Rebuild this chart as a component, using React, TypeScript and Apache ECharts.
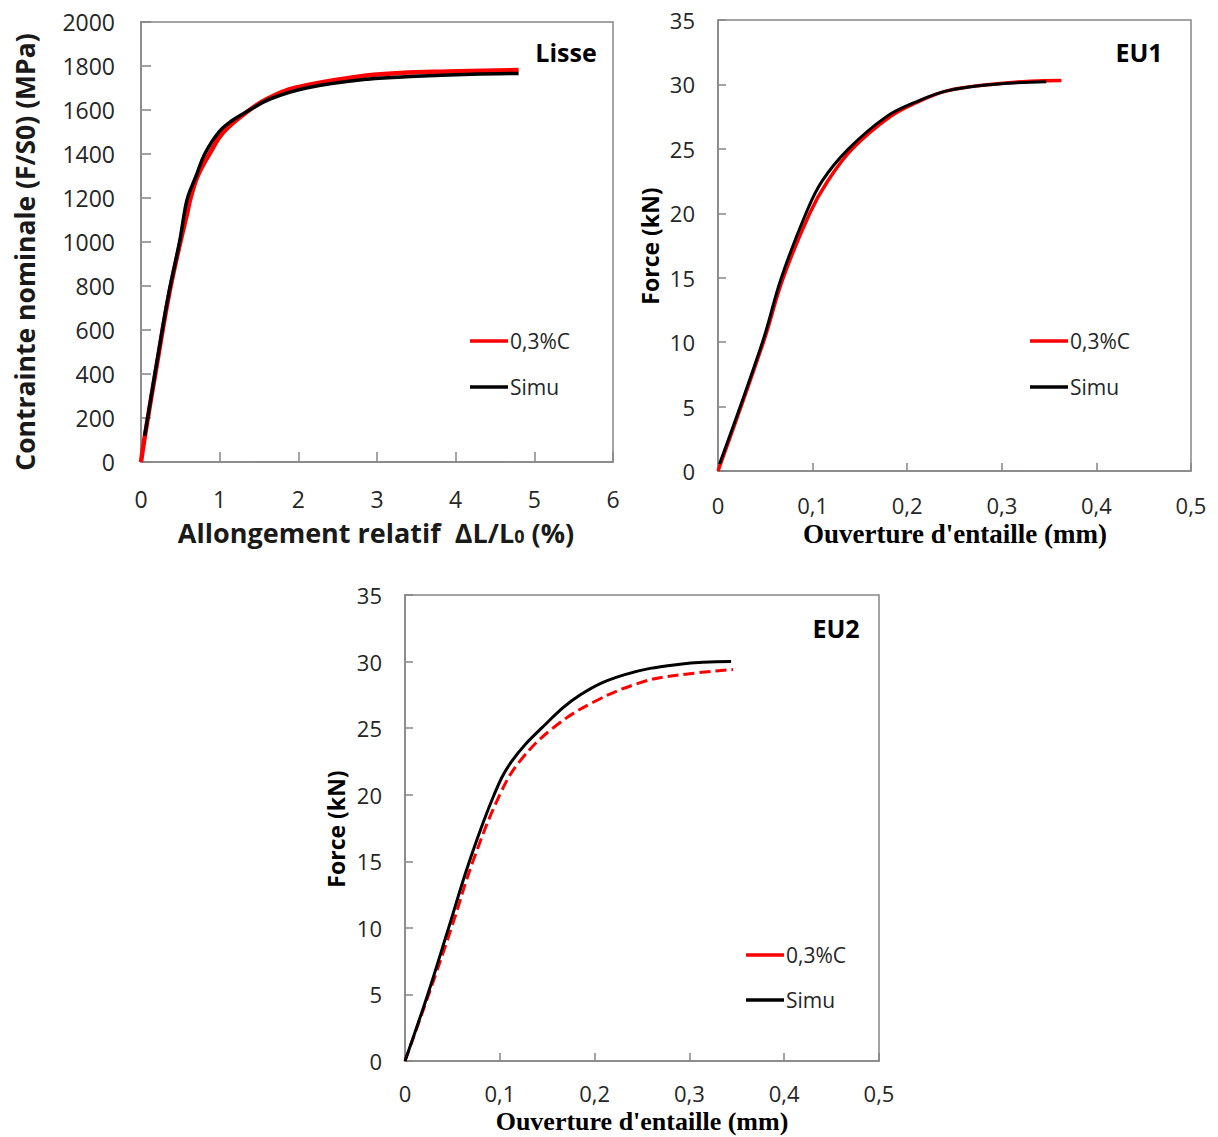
import React, { useEffect, useRef } from "react";
import * as echarts from "echarts";

// ---- Data: Lisse (x: % elongation, y: MPa)
const lisseExpX = [0, 0.05, 0.2, 0.35, 0.5, 0.58, 0.63, 0.72, 0.87, 1.05, 1.38, 1.6, 1.95, 2.73, 3.3, 3.9, 4.8];
const lisseExpY = [0, 120, 440, 750, 1000, 1120, 1200, 1300, 1400, 1500, 1600, 1650, 1700, 1750, 1768, 1775, 1782];
const lisseSimX = [0.047, 0.2, 0.35, 0.49, 0.56, 0.6, 0.7, 0.81, 0.99, 1.15, 1.38, 1.64, 2.1, 2.88, 3.5, 4.2, 4.8];
const lisseSimY = [119, 450, 760, 1000, 1150, 1210, 1300, 1400, 1500, 1550, 1600, 1650, 1700, 1740, 1753, 1762, 1766];

// ---- Data: EU1 (x: mm, y: kN)
const eu1ExpX = [0, 0.048, 0.069, 0.097, 0.116, 0.142, 0.182, 0.21, 0.242, 0.287, 0.33, 0.363];
const eu1ExpY = [0, 10, 15, 20, 22.5, 25, 27.5, 28.6, 29.5, 30, 30.25, 30.3];
const eu1SimX = [0.0016, 0.047, 0.067, 0.093, 0.11, 0.138, 0.178, 0.208, 0.242, 0.29, 0.347];
const eu1SimY = [0.55, 10, 15, 20, 22.5, 25, 27.5, 28.6, 29.5, 30, 30.2];

// ---- Data: EU2 (x: mm, y: kN)
const eu2ExpX = [0, 0.025, 0.049, 0.0717, 0.1, 0.121, 0.156, 0.2, 0.252, 0.29, 0.346];
const eu2ExpY = [0, 5, 10, 15, 20, 22.5, 25, 27, 28.5, 29, 29.4];
const eu2SimX = [0, 0.024, 0.046, 0.068, 0.094, 0.1125, 0.144, 0.185, 0.231, 0.29, 0.344];
const eu2SimY = [0, 5, 10, 15, 20, 22.5, 25, 27.5, 29, 29.8, 30];

const legendNames = ["0,3%C", "Simu"];
const panelLabels = ["Lisse", "EU1", "EU2"];

const zip = (xs: number[], ys: number[]) => xs.map((x, i) => [x, ys[i]]);

const AXIS_COLOR = "#868686";
const TEXT_COLOR = "#262626";
const SANS = "'Open Sans', 'Noto Sans', sans-serif";
const SERIF = "'Liberation Serif', 'DejaVu Serif', serif";

const commaFmt = (v: number) => String(Math.round(v * 10) / 10).replace(".", ",");
const plainFmt = (v: number) => String(v);

export default function App() {
  const ref = useRef<HTMLDivElement>(null);

  useEffect(() => {
    if (!ref.current) return;
    const chart = echarts.init(ref.current, null, { renderer: "svg" });

    const grids = [
      { left: 141, top: 22, width: 472, height: 440 },
      { left: 718, top: 20, width: 473, height: 451 },
      { left: 405, top: 595, width: 474, height: 466 },
    ];

    const xAxisBase = (gi: number, max: number, interval: number, fs: number, margin: number, tickLen: number, fmt: any) => ({
      type: "value",
      gridIndex: gi,
      min: 0,
      max,
      interval,
      axisLine: { show: true, lineStyle: { color: AXIS_COLOR, width: 1.5 } },
      axisTick: { show: true, inside: true, length: tickLen, lineStyle: { color: AXIS_COLOR, width: 1.5 } },
      axisLabel: { color: TEXT_COLOR, fontSize: fs, fontFamily: SANS, margin, formatter: fmt, lineHeight: fs },
      splitLine: { show: false },
    });
    const yAxisBase = (gi: number, max: number, interval: number, fs: number, margin: number, tickLen: number) => ({
      type: "value",
      gridIndex: gi,
      min: 0,
      max,
      interval,
      axisLine: { show: true, lineStyle: { color: AXIS_COLOR, width: 1.5 } },
      axisTick: { show: true, inside: true, length: tickLen, lineStyle: { color: AXIS_COLOR, width: 1.5 } },
      axisLabel: { color: TEXT_COLOR, fontSize: fs, fontFamily: SANS, margin, formatter: plainFmt },
      splitLine: { show: false },
    });

    const lineSeries = (name: string, xi: number, data: number[][], color: string, width: number, dashed = false) => ({
      type: "line",
      name,
      xAxisIndex: xi,
      yAxisIndex: xi,
      data,
      showSymbol: false,
      symbol: "none",
      smooth: 0.4,
      lineStyle: { color, width, type: dashed ? [11, 5] : "solid" },
      z: color === "#000000" ? 3 : 2,
    });

    const legendGraphic = (x: number, y1: number, y2: number) => [
      { type: "line", shape: { x1: x, y1, x2: x + 38, y2: y1 }, style: { stroke: "#ff0000", lineWidth: 3.5 } },
      { type: "text", x: x + 40, y: y1, style: { text: legendNames[0], fill: TEXT_COLOR, font: `21px ${SANS}`, align: "left", verticalAlign: "middle" } },
      { type: "line", shape: { x1: x, y1: y2, x2: x + 38, y2 }, style: { stroke: "#000000", lineWidth: 3.5 } },
      { type: "text", x: x + 40, y: y2, style: { text: legendNames[1], fill: TEXT_COLOR, font: `21px ${SANS}`, align: "left", verticalAlign: "middle" } },
    ];

    const option: any = {
      animation: false,
      backgroundColor: "#ffffff",
      grid: grids.map((g) => ({ ...g, show: true, borderColor: AXIS_COLOR, borderWidth: 1.5, backgroundColor: "transparent" })),
      xAxis: [
        xAxisBase(0, 6, 1, 23, 25, 10, plainFmt),
        xAxisBase(1, 0.5, 0.1, 22, 23, 8, commaFmt),
        xAxisBase(2, 0.5, 0.1, 22, 21, 8, commaFmt),
      ],
      yAxis: [
        yAxisBase(0, 2000, 200, 23, 26, 10),
        yAxisBase(1, 35, 5, 22, 23, 8),
        yAxisBase(2, 35, 5, 22, 23, 8),
      ],
      series: [
        lineSeries(legendNames[0], 0, zip(lisseExpX, lisseExpY), "#ff0000", 4.5),
        lineSeries(legendNames[1], 0, zip(lisseSimX, lisseSimY), "#000000", 3.5),
        lineSeries(legendNames[0], 1, zip(eu1ExpX, eu1ExpY), "#ff0000", 3.5),
        lineSeries(legendNames[1], 1, zip(eu1SimX, eu1SimY), "#000000", 3),
        lineSeries(legendNames[0], 2, zip(eu2ExpX, eu2ExpY), "#ff0000", 3, true),
        lineSeries(legendNames[1], 2, zip(eu2SimX, eu2SimY), "#000000", 3),
      ],
      graphic: [
        // panel labels
        { type: "text", x: 566, y: 52, style: { text: panelLabels[0], fill: "#000", font: `bold 25px ${SANS}`, align: "center", verticalAlign: "middle" } },
        { type: "text", x: 1139, y: 52, style: { text: panelLabels[1], fill: "#000", font: `bold 25px ${SANS}`, align: "center", verticalAlign: "middle" } },
        { type: "text", x: 836, y: 628, style: { text: panelLabels[2], fill: "#000", font: `bold 25px ${SANS}`, align: "center", verticalAlign: "middle" } },
        // axis titles
        {
          type: "text", x: 25, y: 252, rotation: Math.PI / 2,
          style: { text: "Contrainte nominale (F/S0) (MPa)", fill: "#1a1a1a", font: `bold 26.5px ${SANS}`, align: "center", verticalAlign: "middle" },
        },
        {
          type: "text", x: 376, y: 532,
          style: {
            text: "{a|Allongement relatif  ΔL/L}{s|0}{a| (%)}",
            align: "center", verticalAlign: "middle",
            rich: {
              a: { fill: "#1a1a1a", fontSize: 27, fontWeight: "bold", fontFamily: SANS },
              s: { fill: "#1a1a1a", fontSize: 18, fontWeight: "bold", fontFamily: SANS, padding: [7, 0, 0, 0] },
            },
          },
        },
        {
          type: "text", x: 650, y: 246, rotation: Math.PI / 2,
          style: { text: "Force (kN)", fill: "#000", font: `bold 23px ${SANS}`, align: "center", verticalAlign: "middle" },
        },
        {
          type: "text", x: 955, y: 534,
          style: { text: "Ouverture d'entaille (mm)", fill: "#000", font: `bold 27px ${SERIF}`, align: "center", verticalAlign: "middle" },
        },
        {
          type: "text", x: 336, y: 829, rotation: Math.PI / 2,
          style: { text: "Force (kN)", fill: "#000", font: `bold 23px ${SANS}`, align: "center", verticalAlign: "middle" },
        },
        {
          type: "text", x: 642, y: 1121,
          style: { text: "Ouverture d'entaille (mm)", fill: "#000", font: `bold 26px ${SERIF}`, align: "center", verticalAlign: "middle" },
        },
        // legends
        ...legendGraphic(470, 341, 387),
        ...legendGraphic(1030, 341, 387),
        ...legendGraphic(746, 955, 1000),
      ],
    };

    chart.setOption(option);
    return () => chart.dispose();
  }, []);

  return <div ref={ref} style={{ position: "fixed", left: 0, top: 0, width: 1218, height: 1137, background: "#fff" }} />;
}
